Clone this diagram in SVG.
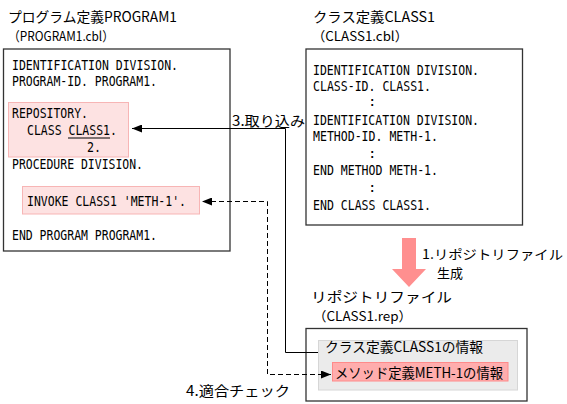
<svg xmlns="http://www.w3.org/2000/svg" width="567" height="404" viewBox="0 0 567 404">
<style>
.box{fill:#fff;stroke:#333;stroke-width:1.3}
.pk1{fill:#fde2e2;stroke:#f7b5b5;stroke-width:1}
.pk2{fill:#ffadad;stroke:#ff8a8a;stroke-width:1}
.gr{fill:#ebebeb;stroke:#d6d6d6;stroke-width:1}
.code{font-family:"DejaVu Sans Mono","Noto Sans CJK JP",monospace;font-size:14px;fill:#000}
.jp{font-family:"Noto Sans CJK JP","DejaVu Sans",sans-serif;font-size:14px;fill:#000}
.sm{font-size:13px}
.ln{fill:none;stroke:#000;stroke-width:1}
.dash{fill:none;stroke:#000;stroke-width:1;stroke-dasharray:5,3}
</style>
<defs>
<marker id="ah" viewBox="0 0 10 8" refX="10" refY="4" markerWidth="10" markerHeight="8" markerUnits="userSpaceOnUse" orient="auto-start-reverse">
<path d="M0,0 L10,4 L0,8 Z" fill="#000"/>
</marker>
</defs>

<g id="program">
<text class="jp" x="8" y="22" textLength="169" lengthAdjust="spacingAndGlyphs">プログラム定義PROGRAM1</text>
<text class="jp sm" x="8" y="41" textLength="106" lengthAdjust="spacingAndGlyphs">（PROGRAM1.cbl）</text>
<rect class="box" x="3.5" y="49" width="226.5" height="202"/>
<text class="code" x="12" y="70" textLength="166" lengthAdjust="spacingAndGlyphs">IDENTIFICATION DIVISION.</text>
<text class="code" x="12" y="86" textLength="145" lengthAdjust="spacingAndGlyphs">PROGRAM-ID. PROGRAM1.</text>
<g id="repository">
<rect class="pk1" x="8.5" y="102.5" width="120" height="54.5"/>
<text class="code" x="12" y="118" textLength="76" lengthAdjust="spacingAndGlyphs">REPOSITORY.</text>
<text class="code" x="27" y="135" textLength="34.6" lengthAdjust="spacingAndGlyphs">CLASS</text>
<text class="code" x="68.5" y="135" textLength="48.4" lengthAdjust="spacingAndGlyphs">CLASS1.</text>
<line x1="68" y1="138" x2="110" y2="138" stroke="#000" stroke-width="1"/>
<text class="code" x="87" y="152" textLength="14" lengthAdjust="spacingAndGlyphs">2.</text>
</g>
<text class="code" x="12" y="169" textLength="131" lengthAdjust="spacingAndGlyphs">PROCEDURE DIVISION.</text>
<g id="invoke">
<rect class="pk1" x="22.5" y="186.5" width="177" height="27.5"/>
<text class="code" x="27" y="206" textLength="159" lengthAdjust="spacingAndGlyphs">INVOKE CLASS1 'METH-1'.</text>
</g>
<text class="code" x="12" y="240" textLength="145" lengthAdjust="spacingAndGlyphs">END PROGRAM PROGRAM1.</text>
</g>

<g id="class">
<text class="jp" x="313" y="22" textLength="122" lengthAdjust="spacingAndGlyphs">クラス定義CLASS1</text>
<text class="jp sm" x="312" y="41" textLength="96" lengthAdjust="spacingAndGlyphs">（CLASS1.cbl）</text>
<rect class="box" x="306" y="49" width="216.5" height="176"/>
<text class="code" x="313" y="75" textLength="166" lengthAdjust="spacingAndGlyphs">IDENTIFICATION DIVISION.</text>
<text class="code" x="313" y="91" textLength="118" lengthAdjust="spacingAndGlyphs">CLASS-ID. CLASS1.</text>
<text class="code" x="368" y="106">:</text>
<text class="code" x="313" y="125" textLength="166" lengthAdjust="spacingAndGlyphs">IDENTIFICATION DIVISION.</text>
<text class="code" x="313" y="141" textLength="125" lengthAdjust="spacingAndGlyphs">METHOD-ID. METH-1.</text>
<text class="code" x="368" y="158">:</text>
<text class="code" x="313" y="175" textLength="125" lengthAdjust="spacingAndGlyphs">END METHOD METH-1.</text>
<text class="code" x="368" y="192">:</text>
<text class="code" x="313" y="210" textLength="118" lengthAdjust="spacingAndGlyphs">END CLASS CLASS1.</text>
</g>

<g id="generate">
<polygon points="402,238 416,238 416,269 426,269 409,287 392,269 402,269" fill="#ff8f8f"/>
<text class="jp sm" x="422" y="259" textLength="141" lengthAdjust="spacingAndGlyphs">1.リポジトリファイル</text>
<text class="jp sm" x="437" y="278">生成</text>
</g>

<g id="repfile">
<text class="jp" x="311" y="302" textLength="141" lengthAdjust="spacingAndGlyphs">リポジトリファイル</text>
<text class="jp sm" x="313" y="321" textLength="99" lengthAdjust="spacingAndGlyphs">（CLASS1.rep）</text>
<rect class="box" x="306" y="328.5" width="221" height="72.5"/>
<g id="classinfo">
<rect class="gr" x="318.5" y="340.5" width="199" height="49.5"/>
<text class="jp" x="325" y="352" textLength="158" lengthAdjust="spacingAndGlyphs">クラス定義CLASS1の情報</text>
</g>
<g id="methinfo">
<rect class="pk2" x="332.5" y="362.5" width="175.5" height="18.5"/>
<text class="jp" x="335" y="378" textLength="168" lengthAdjust="spacingAndGlyphs">メソッド定義METH-1の情報</text>
</g>
</g>

<g id="connectors">
<path class="ln" d="M318,352.5 H285.5 V128.5 H132" marker-end="url(#ah)"/>
<text class="jp" x="232" y="126" textLength="73" lengthAdjust="spacingAndGlyphs">3.取り込み</text>
<path class="dash" d="M331,374.5 H267.5 V201.5 H202" marker-start="url(#ah)" marker-end="url(#ah)"/>
<text class="jp" x="186" y="396" textLength="104" lengthAdjust="spacingAndGlyphs">4.適合チェック</text>
</g>
</svg>
